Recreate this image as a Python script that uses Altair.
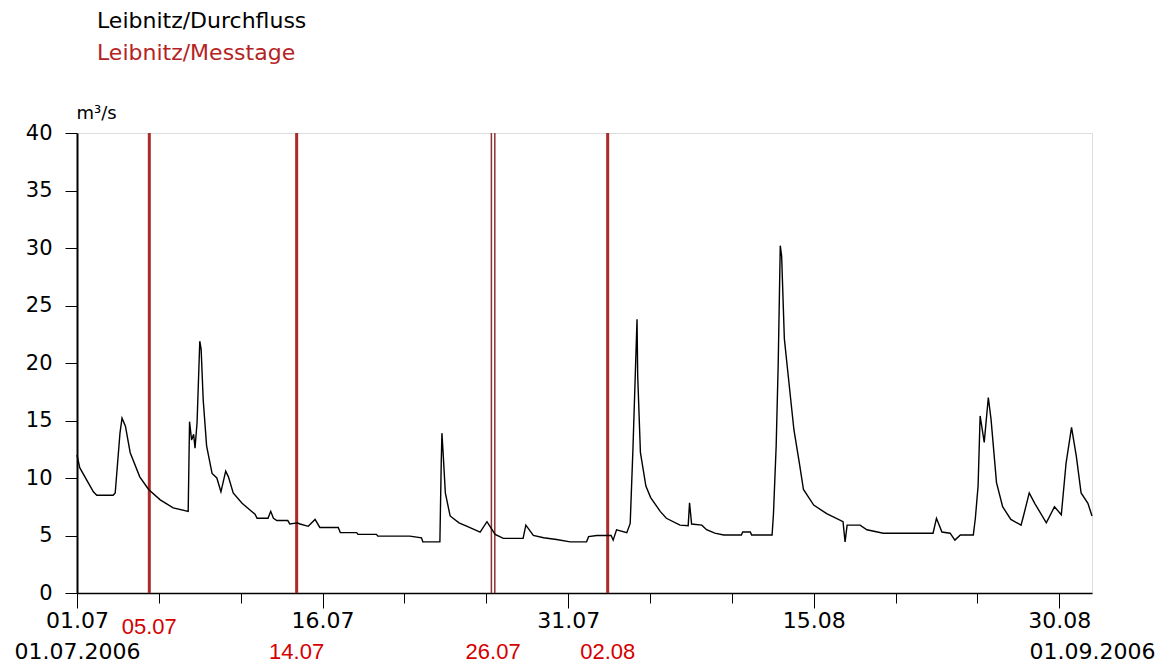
import altair as alt
import pandas as pd

# ---------------- data ----------------
zeit = [
    "2006-07-01 00:00", "2006-07-01 04:00", "2006-07-02 00:00", "2006-07-02 05:00", "2006-07-03 05:00",
    "2006-07-03 08:00", "2006-07-03 15:00", "2006-07-03 18:00", "2006-07-03 23:00", "2006-07-04 06:00",
    "2006-07-04 20:00", "2006-07-05 09:00", "2006-07-06 02:00", "2006-07-06 21:00", "2006-07-07 19:00",
    "2006-07-07 21:00", "2006-07-08 00:00", "2006-07-08 03:00", "2006-07-08 05:00", "2006-07-08 08:00",
    "2006-07-08 12:00", "2006-07-08 14:00", "2006-07-08 17:00", "2006-07-08 22:00", "2006-07-09 06:00",
    "2006-07-09 13:00", "2006-07-09 19:00", "2006-07-10 02:00", "2006-07-10 06:00", "2006-07-10 13:00",
    "2006-07-11 02:00", "2006-07-11 14:00", "2006-07-11 21:00", "2006-07-12 00:00", "2006-07-12 16:00",
    "2006-07-12 20:00", "2006-07-13 00:00", "2006-07-13 05:00", "2006-07-13 21:00", "2006-07-14 00:00",
    "2006-07-14 11:00", "2006-07-14 15:00", "2006-07-15 03:00", "2006-07-15 13:00", "2006-07-15 20:00",
    "2006-07-16 23:00", "2006-07-17 02:00", "2006-07-18 02:00", "2006-07-18 04:00", "2006-07-19 07:00",
    "2006-07-19 09:00", "2006-07-21 08:00", "2006-07-22 01:00", "2006-07-22 03:00", "2006-07-23 04:00",
    "2006-07-23 06:00", "2006-07-23 07:00", "2006-07-23 09:00", "2006-07-23 12:00", "2006-07-23 19:00",
    "2006-07-24 08:00", "2006-07-24 20:00", "2006-07-25 15:00", "2006-07-26 01:00", "2006-07-26 13:00",
    "2006-07-27 01:00", "2006-07-28 06:00", "2006-07-28 10:00", "2006-07-28 21:00", "2006-07-29 12:00",
    "2006-07-30 07:00", "2006-07-31 03:00", "2006-08-01 03:00", "2006-08-01 06:00", "2006-08-01 18:00",
    "2006-08-02 15:00", "2006-08-02 18:00", "2006-08-02 23:00", "2006-08-03 14:00", "2006-08-03 19:00",
    "2006-08-03 23:00", "2006-08-04 05:00", "2006-08-04 06:00", "2006-08-04 10:00", "2006-08-04 18:00",
    "2006-08-05 01:00", "2006-08-05 15:00", "2006-08-06 00:00", "2006-08-06 20:00", "2006-08-07 08:00",
    "2006-08-07 10:00", "2006-08-07 13:00", "2006-08-08 04:00", "2006-08-08 11:00", "2006-08-08 23:00",
    "2006-08-09 12:00", "2006-08-10 14:00", "2006-08-10 16:00", "2006-08-11 03:00", "2006-08-11 05:00",
    "2006-08-12 11:00", "2006-08-12 13:00", "2006-08-12 17:00", "2006-08-12 20:00", "2006-08-12 23:00",
    "2006-08-13 01:00", "2006-08-13 05:00", "2006-08-13 11:00", "2006-08-13 19:00", "2006-08-14 03:00",
    "2006-08-14 09:00", "2006-08-15 00:00", "2006-08-15 19:00", "2006-08-16 19:00", "2006-08-16 22:00",
    "2006-08-17 01:00", "2006-08-17 20:00", "2006-08-18 06:00", "2006-08-19 06:00", "2006-08-22 07:00",
    "2006-08-22 12:00", "2006-08-22 20:00", "2006-08-23 08:00", "2006-08-23 15:00", "2006-08-23 23:00",
    "2006-08-24 18:00", "2006-08-24 21:00", "2006-08-25 01:00", "2006-08-25 04:00", "2006-08-25 10:00",
    "2006-08-25 16:00", "2006-08-25 20:00", "2006-08-26 04:00", "2006-08-26 13:00", "2006-08-27 01:00",
    "2006-08-27 16:00", "2006-08-27 20:00", "2006-08-28 04:00", "2006-08-28 12:00", "2006-08-29 05:00",
    "2006-08-29 17:00", "2006-08-30 03:00", "2006-08-30 10:00", "2006-08-30 18:00", "2006-08-31 01:00",
    "2006-08-31 08:00", "2006-08-31 18:00", "2006-09-01 00:00",
]
abfluss = [
    12.0, 10.9, 8.8, 8.5, 8.5,
    8.7, 13.9, 15.2, 14.5, 12.2,
    10.1, 9.0, 8.1, 7.4, 7.1,
    14.9, 13.3, 13.8, 12.6, 14.8,
    21.9, 21.2, 16.8, 12.8, 10.4,
    10.0, 8.8, 10.6, 10.1, 8.7,
    7.8, 7.2, 6.85, 6.5, 6.5,
    7.1, 6.5, 6.3, 6.3, 6.0,
    6.1, 6.0, 5.8, 6.4, 5.7,
    5.7, 5.25, 5.25, 5.1, 5.1,
    4.95, 4.95, 4.8, 4.45, 4.45,
    11.4, 13.9, 11.9, 8.7, 6.7,
    6.1, 5.8, 5.3, 6.2, 5.1,
    4.75, 4.75, 5.9, 5.0, 4.8,
    4.65, 4.45, 4.45, 4.9, 5.0,
    5.0, 4.6, 5.5, 5.25, 6.05,
    12.5, 23.8, 18.9, 12.2, 9.3,
    8.3, 7.1, 6.5, 5.9, 5.85,
    7.85, 6.0, 5.9, 5.5, 5.2,
    5.05, 5.05, 5.3, 5.3, 5.05,
    5.05, 6.85, 12.8, 20.0, 30.2,
    29.3, 22.1, 18.7, 14.2, 11.3,
    9.0, 7.65, 6.9, 6.2, 4.45,
    5.9, 5.9, 5.5, 5.2, 5.2,
    6.5, 5.3, 5.2, 4.6, 5.05,
    5.05, 6.5, 9.3, 15.4, 13.1,
    17.0, 15.1, 9.6, 7.5, 6.4,
    5.9, 6.8, 8.7, 7.8, 6.1,
    7.5, 6.8, 11.3, 14.4, 11.9,
    8.7, 7.8, 6.7,
]

messtage_einzeln = ["2006-07-05 10:00", "2006-07-14 10:00", "2006-08-02 10:00"]
messtage_doppel = ["2006-07-26 07:30", "2006-07-26 12:30"]
label_oben = ["05.07"]
label_oben_zeit = ["2006-07-05 10:00"]
label_unten = ["14.07", "26.07", "02.08"]
label_unten_zeit = ["2006-07-14 10:00", "2006-07-26 10:00", "2006-08-02 10:00"]

y_ticks = [0, 5, 10, 15, 20, 25, 30, 35, 40]
x_minor = [(7, 1), (7, 6), (7, 11), (7, 16), (7, 21), (7, 26), (7, 31),
           (8, 5), (8, 10), (8, 15), (8, 20), (8, 25), (8, 30)]
x_major = [(7, 1), (7, 16), (7, 31), (8, 15), (8, 30)]
x_jahr = [(7, 1), (9, 1)]

titel_1 = "Leibnitz/Durchfluss"
titel_2 = "Leibnitz/Messtage"
einheit = "m³/s"

# ---------------- chart ----------------
def dt(md):
    return alt.DateTime(year=2006, month=md[0], date=md[1])

x_domain = [dt((7, 1)), dt((9, 1))]
FONT = "DejaVu Sans"


def xenc(axis):
    return alt.X("zeit:T", scale=alt.Scale(domain=x_domain, nice=False), axis=axis, title=None)


df = pd.DataFrame({"zeit": pd.to_datetime(zeit), "abfluss": abfluss})
df_e = pd.DataFrame({"zeit": pd.to_datetime(messtage_einzeln)})
df_d = pd.DataFrame({"zeit": pd.to_datetime(messtage_doppel)})
df_lo = pd.DataFrame({"zeit": pd.to_datetime(label_oben_zeit), "label": label_oben})
df_lu = pd.DataFrame({"zeit": pd.to_datetime(label_unten_zeit), "label": label_unten})

axis_minor = alt.Axis(orient="bottom", values=[dt(v) for v in x_minor], labels=False, tickSize=10,
                      tickColor="black", tickWidth=1, domainColor="black", domainWidth=1.5, grid=False)
axis_major = alt.Axis(orient="bottom", values=[dt(v) for v in x_major], format="%d.%m", tickSize=15,
                      tickColor="black", tickWidth=1, domain=False, grid=False, labelFont=FONT,
                      labelFontSize=22, labelColor="black", labelPadding=19, labelBaseline="alphabetic",
                      labelFlush=False, labelOverlap=False, labelBound=False)
axis_jahr = alt.Axis(orient="bottom", values=[dt(v) for v in x_jahr], format="%d.%m.%Y", tickSize=0,
                     ticks=True, tickOpacity=0, domain=False, grid=False, labelFont=FONT,
                     labelFontSize=22, labelColor="black", labelPadding=65, labelBaseline="alphabetic",
                     labelFlush=False, labelOverlap=False, labelBound=False)

line = alt.Chart(df).mark_line(color="black", strokeWidth=1.4).encode(
    x=xenc(axis_minor),
    y=alt.Y("abfluss:Q", scale=alt.Scale(domain=[0, 40], nice=False),
            axis=alt.Axis(values=y_ticks, tickSize=12, labelPadding=13, labelFontSize=21, labelFont=FONT,
                          labelColor="black", domainColor="black", domainWidth=2, tickColor="black",
                          tickWidth=1, grid=False, title=einheit, titleAngle=0, titleX=-1, titleY=-15,
                          titleAlign="left", titleBaseline="alphabetic", titleFontSize=18, titleFont=FONT,
                          titleFontWeight="normal", titleColor="black")),
)

rules_e = alt.Chart(df_e).mark_rule(color="#ab2a2a", strokeWidth=3).encode(x=xenc(axis_major))
rules_d = alt.Chart(df_d).mark_rule(color="#8e3030", strokeWidth=1.5).encode(x=xenc(axis_jahr))

lab_style = dict(font="Liberation Sans", fontSize=22, color="#d40000", baseline="alphabetic", align="center")
lab_o = alt.Chart(df_lo).mark_text(**lab_style).encode(x=xenc(None), y=alt.value(501), text="label:N")
lab_u = alt.Chart(df_lu).mark_text(**lab_style).encode(x=xenc(None), y=alt.value(526), text="label:N")

t1 = alt.Chart(pd.DataFrame({"t": [titel_1]})).mark_text(
    font=FONT, fontSize=22, color="black", align="left", baseline="alphabetic"
).encode(x=alt.value(20), y=alt.value(-105), text="t:N")
t2 = alt.Chart(pd.DataFrame({"t": [titel_2]})).mark_text(
    font=FONT, fontSize=22, color="#b42323", align="left", baseline="alphabetic"
).encode(x=alt.value(20), y=alt.value(-73), text="t:N")

chart = alt.layer(rules_e, rules_d, line, lab_o, lab_u, t1, t2).resolve_axis(
    x="independent"
).properties(
    width=1015, height=460,
    autosize=alt.AutoSizeParams(type="none"),
    padding={"left": 69, "top": 125, "right": 64, "bottom": 71},
).configure_view(stroke=None).configure(background="white")

chart.save("out.html", embed_options={"renderer": "svg", "actions": False})
